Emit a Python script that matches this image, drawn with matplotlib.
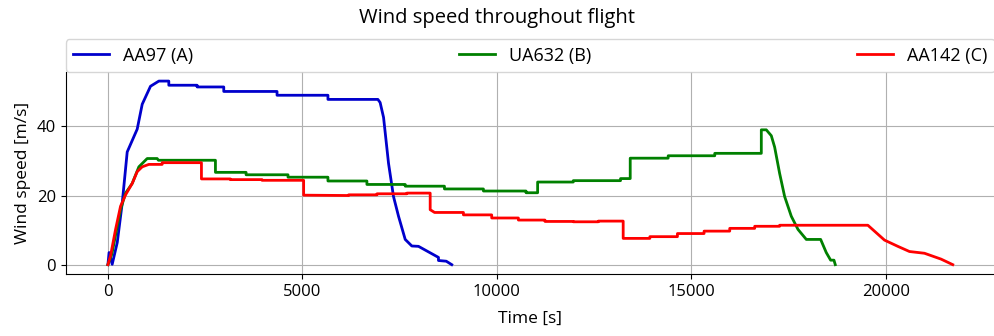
import matplotlib
matplotlib.use("Agg")
import matplotlib.pyplot as plt

# AA97 (A)
t_a = [0, 30, 110, 240, 368, 496, 753, 882, 1095, 1310, 1566, 1566, 2294, 2294, 2979, 2979,
       4349, 4349, 5658, 5658, 6942, 7000, 7088, 7216, 7344, 7473, 7645, 7815, 7986, 8500,
       8500, 8700, 8842]
v_a = [0, 3.5, 0.1, 6.4, 17.8, 32.6, 39.2, 46.4, 51.6, 53.1, 53.1, 51.9, 51.9, 51.4, 51.4, 50.1,
       50.1, 49.0, 49.0, 47.8, 47.8, 46.9, 42.6, 29.3, 19.7, 14.0, 7.3, 5.4, 5.3, 2.1,
       1.2, 1.0, 0]

# UA632 (B)
t_b = [0, 100, 325, 454, 625, 796, 1010, 1266, 1300, 2765, 2765, 3553, 3553, 4631, 4631,
       5658, 5658, 6660, 6660, 7645, 7645, 8654, 8654, 9656, 9656, 10752, 10752, 11050, 11050,
       11967, 11967, 13182, 13182, 13431, 13431, 14407, 14407, 15605, 15605, 16802, 16802,
       16930, 17059, 17145, 17273, 17402, 17573, 17745, 17959, 18328, 18472, 18585, 18670, 18704]
v_b = [0, 3.0, 15.9, 20.7, 23.5, 28.3, 30.7, 30.7, 30.2, 30.2, 26.7, 26.7, 26.0, 26.0, 25.3,
       25.3, 24.2, 24.2, 23.2, 23.2, 22.7, 22.7, 21.9, 21.9, 21.3, 21.3, 20.8, 20.8, 23.9,
       23.9, 24.3, 24.3, 24.9, 24.9, 30.8, 30.8, 31.5, 31.5, 32.2, 32.2, 39.0,
       39.0, 37.3, 34.0, 26.4, 19.7, 14.0, 10.2, 7.3, 7.3, 3.5, 1.3, 1.3, 0]

# AA142 (C)
t_c = [0, 68, 197, 325, 454, 625, 753, 882, 1053, 1395, 1395, 2405, 2405, 3150, 3150, 3962,
       3962, 5033, 5033, 6190, 6190, 6920, 6920, 7688, 7688, 8287, 8287, 8400, 9142, 9142,
       9869, 9869, 10555, 10555, 11240, 11240, 11967, 11967, 12610, 12610, 13250, 13250,
       13936, 13936, 14645, 14645, 15330, 15330, 15990, 15990, 16632, 16632, 17273, 17273,
       19542, 19970, 20312, 20612, 20997, 21425, 21725]
v_c = [0, 2.6, 10.2, 16.9, 20.2, 23.5, 26.9, 28.3, 29.0, 29.0, 29.5, 29.5, 24.8, 24.8, 24.6, 24.6,
       24.4, 24.4, 20.1, 20.0, 20.2, 20.2, 20.5, 20.5, 20.7, 20.7, 15.9, 15.1, 15.1, 14.4,
       14.4, 13.5, 13.5, 12.9, 12.9, 12.5, 12.5, 12.4, 12.4, 12.6, 12.6, 7.6,
       7.6, 8.1, 8.1, 9.0, 9.0, 9.7, 9.7, 10.5, 10.5, 11.1, 11.1, 11.4,
       11.4, 7.1, 5.3, 3.8, 3.3, 1.6, 0]

labels = ["AA97 (A)", "UA632 (B)", "AA142 (C)"]
colors = ["#0000cc", "#008000", "#ff0000"]


def main():
    plt.rcParams['font.family'] = ['Open Sans', 'DejaVu Sans']
    fig = plt.figure(figsize=(9.95, 3.36), dpi=100)
    ax = fig.add_axes([0.066, 0.185, 0.934, 0.601])

    for t, v, lab, c in zip([t_a, t_b, t_c], [v_a, v_b, v_c], labels, colors):
        ax.plot(t, v, color=c, lw=2, label=lab)

    ax.grid(True, color='#b0b0b0', lw=0.8)
    ax.spines['top'].set_visible(False)
    ax.spines['right'].set_visible(False)
    ax.set_yticks([0, 20, 40])
    ax.tick_params(labelsize=12)
    ax.set_xlabel('Time [s]', fontsize=12.5, labelpad=8)
    ax.set_ylabel('Wind speed [m/s]', fontsize=12.5)
    ax.legend(bbox_to_anchor=(0, 1.0, 1, 0.1), loc='lower left', mode='expand',
              ncol=3, fontsize=13, borderaxespad=0)
    fig.suptitle('Wind speed throughout flight', fontsize=14.5, y=0.977)

    fig.savefig('out.png', dpi=100)


if __name__ == "__main__":
    main()
